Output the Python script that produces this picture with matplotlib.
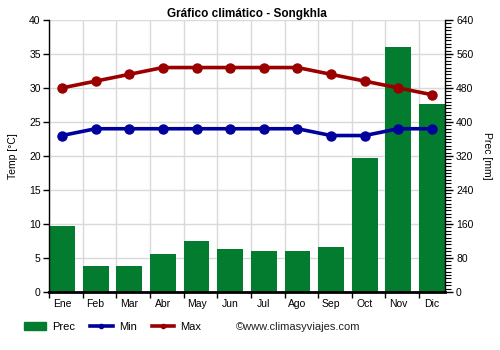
#! /usr/bin/env python3
# Climate chart: Songkhla (temperature lines + precipitation bars)
import numpy as np
import matplotlib.pyplot as plt
from matplotlib.patches import Patch
from matplotlib.lines import Line2D
from matplotlib.ticker import MultipleLocator, FixedLocator

plt.rcParams.update({
  'font.family': ['Liberation Sans', 'DejaVu Sans'],
  'font.size':   7.5,
})

months = ["Ene","Feb","Mar","Abr","May","Jun","Jul","Ago","Sep","Oct","Nov","Dic"]
prec   = [155, 61, 61, 89, 120, 101, 96, 96, 106, 315, 576, 442]
tmin   = [23, 24, 24, 24, 24, 24, 24, 24, 23, 23, 24, 24]
tmax   = [30, 31, 32, 33, 33, 33, 33, 33, 32, 31, 30, 29]

c_bar = '#037c30'
c_min = '#00009c'
c_max = '#9a0000'
width = 0.77

fig = plt.figure(figsize=(5,3.5), dpi=100)
ax2 = fig.add_axes([0.098, 0.166, 0.792, 0.777])  # precipitation (drawn below)
ax = fig.add_axes(ax2.get_position(), sharex=ax2) # temperature (drawn on top)
ax.set_zorder(ax2.get_zorder()+1)
ax.patch.set_visible(False)

x = np.arange(len(months))
ax2.bar(x, prec, width=width, color=c_bar, zorder=2)
ax.plot(x, tmin, color=c_min, lw=2.6, marker='o', ms=6.5, zorder=3)
ax.plot(x, tmax, color=c_max, lw=2.6, marker='o', ms=6.5, zorder=3)

# x axis
ax2.set_xlim(-width/2, len(months)-1+width/2)
ax2.xaxis.set_major_locator(FixedLocator(x))
ax2.set_xticklabels(months)
ax2.xaxis.set_minor_locator(FixedLocator(x-width/2))
ax2.tick_params(axis='x', which='major', length=0, pad=5)
ax2.tick_params(axis='x', which='minor', length=4, width=1, color='black')
ax2.grid(True, which='minor', axis='x', color='#d9d9d9', lw=1, zorder=0)
ax2.grid(True, which='major', axis='y', color='#d9d9d9', lw=1, zorder=0)
ax2.set_axisbelow(True)

# precipitation axis on the right
ax2.yaxis.tick_right()
ax2.yaxis.set_label_position('right')
ax2.set_ylim(0, 640)
ax2.yaxis.set_major_locator(MultipleLocator(80))
ax2.yaxis.set_minor_locator(MultipleLocator(8))
ax2.tick_params(axis='y', which='major', length=6, width=1, pad=2)
ax2.tick_params(axis='y', which='minor', length=4, width=0.8)
ax2.set_ylabel("Prec [mm]", rotation=270, labelpad=13)

# temperature axis on the left
ax.set_ylim(0, 40)
ax.yaxis.set_major_locator(MultipleLocator(5))
ax.tick_params(axis='y', length=4, width=1, pad=2)
ax.tick_params(axis='x', which='both', bottom=False, labelbottom=False)
ax.set_ylabel("Temp [°C]", labelpad=8)

for a in (ax, ax2):
  a.spines['top'].set_visible(False)
ax.spines['right'].set_visible(False)
ax.spines['bottom'].set_visible(False)
ax2.spines['left'].set_visible(False)
ax2.spines['bottom'].set_linewidth(2)
ax.spines['left'].set_linewidth(1)
ax2.spines['right'].set_linewidth(1)

ax.set_title("Gráfico climático - Songkhla", fontweight='bold', fontsize=8.5, pad=-1)

# legend
handles = [
  Patch(color=c_bar),
  Line2D([], [], color=c_min, lw=2.6, marker='o', ms=3),
  Line2D([], [], color=c_max, lw=2.6, marker='o', ms=3),
]
fig.legend(handles, ["Prec","Min","Max"], loc='center left', bbox_to_anchor=(0.048, 0.066),
           ncol=3, frameon=False, fontsize=8, handlelength=2.0, columnspacing=1.35,
           handletextpad=0.55, borderpad=0, borderaxespad=0)
fig.text(0.472, 0.066, "©www.climasyviajes.com", fontsize=8, va='center', ha='left', color='#222222')

plt.savefig("out.png", dpi=100)
